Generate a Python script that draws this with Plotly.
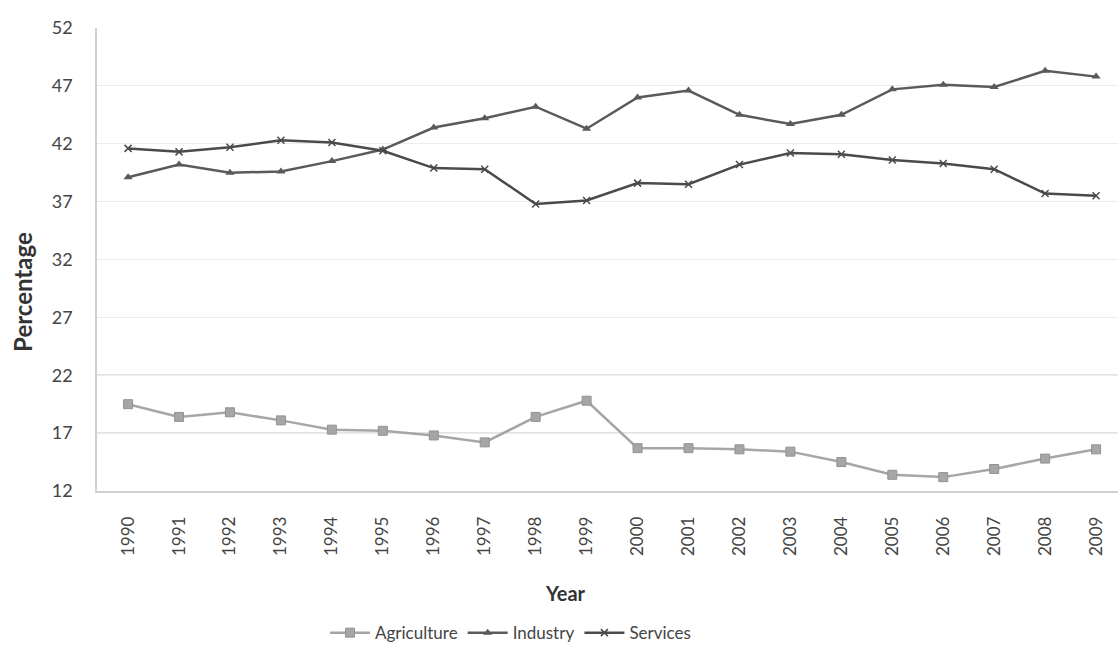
import plotly.graph_objects as go

# Sectoral shares of GDP, 1990-2009
years = list(range(1990, 2010))
agriculture = [19.5, 18.4, 18.8, 18.1, 17.3, 17.2, 16.8, 16.2, 18.4, 19.8,
               15.7, 15.7, 15.6, 15.4, 14.5, 13.4, 13.2, 13.9, 14.8, 15.6]
industry = [39.1, 40.2, 39.5, 39.6, 40.5, 41.5, 43.4, 44.2, 45.2, 43.3,
            46.0, 46.6, 44.5, 43.7, 44.5, 46.7, 47.1, 46.9, 48.3, 47.8]
services = [41.6, 41.3, 41.7, 42.3, 42.1, 41.4, 39.9, 39.8, 36.8, 37.1,
            38.6, 38.5, 40.2, 41.2, 41.1, 40.6, 40.3, 39.8, 37.7, 37.5]
y_ticks = [12, 17, 22, 27, 32, 37, 42, 47, 52]

FONT = "Lato, 'Open Sans', sans-serif"

fig = go.Figure()
fig.add_trace(go.Scatter(
    x=years, y=agriculture, name="Agriculture", mode="lines+markers",
    line=dict(color="#a6a6a6", width=2.5),
    marker=dict(symbol="square", size=9, color="#a6a6a6",
                line=dict(color="#929292", width=1)),
))
fig.add_trace(go.Scatter(
    x=years, y=industry, name="Industry", mode="lines+markers",
    line=dict(color="#5a5a5a", width=2.5),
    marker=dict(symbol="triangle-up", size=8, color="#5a5a5a"),
))
fig.add_trace(go.Scatter(
    x=years, y=services, name="Services", mode="lines+markers",
    line=dict(color="#4a4a4a", width=2.5),
    marker=dict(symbol="x-thin-open", size=7, color="#4a4a4a",
                line=dict(color="#4a4a4a", width=1.5)),
))

fig.update_layout(
    width=1118, height=650,
    margin=dict(l=97, r=0, t=28, b=159),
    paper_bgcolor="white", plot_bgcolor="white",
    font=dict(family=FONT, color="#333333", size=12),
    showlegend=True,
    legend=dict(orientation="h", x=0.405, xanchor="center", xref="paper",
                y=0.026, yanchor="middle", yref="container",
                font=dict(size=17, color="#444444"),
                itemwidth=40, traceorder="normal"),
    xaxis=dict(
        range=[1989.39, 2009.43], tickmode="array", tickvals=years,
        ticktext=[str(y) for y in years], tickangle=-90,
        tickfont=dict(size=17, color="#444444"),
        showgrid=False, zeroline=False,
        showline=True, linecolor="#d0d0d0", linewidth=1.5,
        ticks="", ticklabelstandoff=17,
    ),
    yaxis=dict(
        range=[12, 52], tickmode="array", tickvals=y_ticks,
        tickfont=dict(size=18, color="#444444"),
        showgrid=True, gridcolor="#ececec", gridwidth=1,
        zeroline=False, showline=True, linecolor="#d0d0d0", linewidth=1.5,
        ticks="", ticklabelstandoff=19,
    ),
    annotations=[
        dict(text="<b>Percentage</b>", textangle=-90, showarrow=False,
             xref="paper", yref="paper", x=-0.0725, y=0.43,
             xanchor="center", yanchor="middle",
             font=dict(size=24, color="#333333")),
        dict(text="<b>Year</b>", showarrow=False,
             xref="paper", yref="paper", x=0.459, y=-0.22,
             xanchor="center", yanchor="middle",
             font=dict(size=20, color="#333333")),
    ],
)

# Slightly stronger reference lines at 17 and 22
for level in (17, 22):
    fig.add_hline(y=level, line=dict(color="#c8c8c8", width=1.5), layer="below")

fig.write_html("out.html")
